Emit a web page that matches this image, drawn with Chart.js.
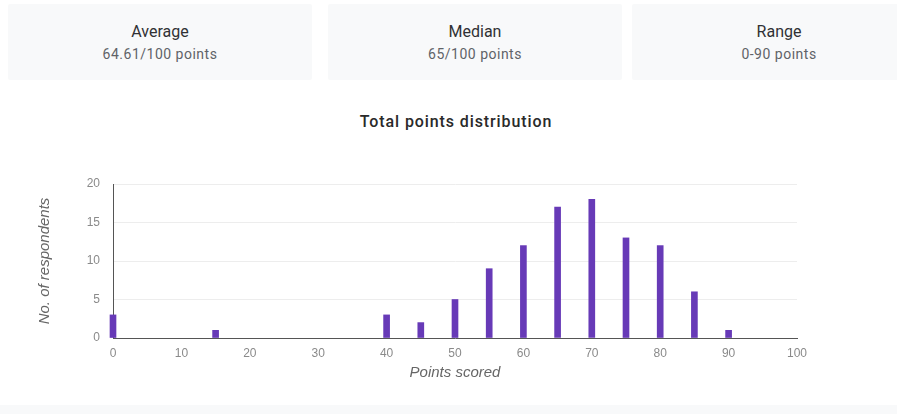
<!DOCTYPE html>
<html>
<head>
<meta charset="utf-8">
<script src="https://cdn.jsdelivr.net/npm/chart.js@4.4.1/dist/chart.umd.min.js"></script>
<style>
  html, body { margin: 0; padding: 0; background: #ffffff; }
  body { width: 897px; height: 414px; position: relative; overflow: hidden; font-family: Roboto, "Noto Sans", Arial, sans-serif; }
  .card { position: absolute; top: 4px; height: 76px; background: #f8f9fa; border-radius: 2px; text-align: center; }
  .card .label { position: absolute; left: 0; right: 0; top: 20px; font-size: 16px; line-height: 16px; font-weight: 400; color: #303134; }
  .card .value { position: absolute; left: 0; right: 0; top: 43px; font-size: 14px; line-height: 14px; letter-spacing: 0.5px; color: #5f6368; }
  .heading { position: absolute; left: 0; width: 912px; top: 114px; text-align: center; font-size: 16px; line-height: 16px; font-weight: 500; letter-spacing: 0.9px; color: #2a2a2a; }
  #wrap { position: absolute; left: 0; top: 100px; width: 897px; height: 300px; }
  .band { position: absolute; left: 0; right: 0; top: 405px; height: 9px; background: #f8f9fa; }
</style>
</head>
<body>
<div class="card" style="left:8px; width:304px"><div class="label">Average</div><div class="value" id="avg"></div></div>
<div class="card" style="left:328px; width:294px"><div class="label">Median</div><div class="value" id="med"></div></div>
<div class="card" style="left:632px; width:294px"><div class="label">Range</div><div class="value" id="rng"></div></div>
<div class="heading">Total points distribution</div>
<div id="wrap"><canvas id="chart"></canvas></div>
<div class="band"></div>
<script>
// Score buckets and how many respondents landed in each
const scores = [0, 15, 40, 45, 50, 55, 60, 65, 70, 75, 80, 85, 90];
const respondents = [3, 1, 3, 2, 5, 9, 12, 17, 18, 13, 12, 6, 1];

// Summary figures shown in the cards
const summaryAverage = "64.61/100 points";
const summaryMedian = "65/100 points";
const summaryRange = "0-90 points";

document.getElementById("avg").textContent = summaryAverage;
document.getElementById("med").textContent = summaryMedian;
document.getElementById("rng").textContent = summaryRange;

const points = scores.map((s, i) => ({ x: s, y: respondents[i] }));

const tickFont = { family: "'Liberation Sans', Arial, sans-serif", size: 12 };
const axisTitleFont = { family: "'Liberation Sans', Arial, sans-serif", size: 15, style: "italic" };

new Chart(document.getElementById("chart"), {
  type: "bar",
  data: {
    datasets: [{
      data: points,
      backgroundColor: "#673ab7",
      barThickness: 6,
      clip: false
    }]
  },
  options: {
    responsive: true,
    maintainAspectRatio: false,
    animation: false,
    layout: { padding: { left: 0, right: 100, top: 84, bottom: 0 } },
    plugins: {
      legend: { display: false },
      tooltip: { enabled: false }
    },
    scales: {
      x: {
        type: "linear",
        offset: false,
        min: 0,
        max: 100,
        ticks: { stepSize: 10, color: "#8a8a8a", font: tickFont, padding: 8 },
        grid: { display: false, drawTicks: false, offset: false },
        border: { display: true, color: "#555555", width: 1 },
        title: { display: true, text: "Points scored", color: "#666666", font: axisTitleFont, padding: { top: 0, bottom: 18 } },
        afterFit: (scale) => { scale.height = 62; }
      },
      y: {
        min: 0,
        max: 20,
        ticks: { stepSize: 5, color: "#8a8a8a", font: tickFont, padding: 13 },
        grid: { color: "#ededed", drawTicks: false },
        border: { display: true, color: "#555555", width: 1 },
        title: { display: true, text: "No. of respondents", color: "#666666", font: axisTitleFont, padding: { top: 36, bottom: 0 } },
        afterFit: (scale) => { scale.width = 113; }
      }
    }
  }
});
</script>
</body>
</html>
